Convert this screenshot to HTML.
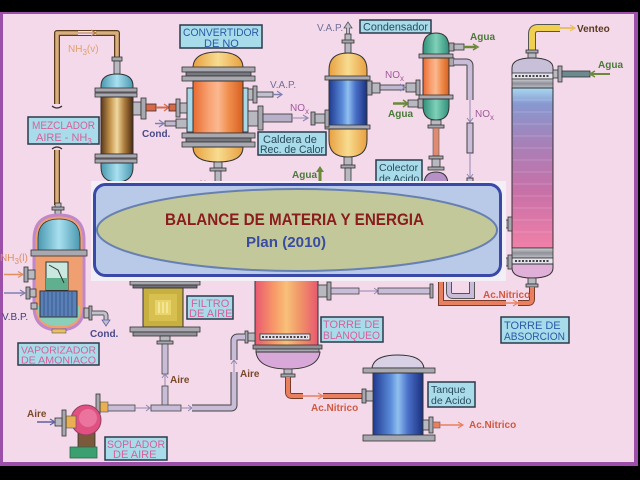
<!DOCTYPE html>
<html><head><meta charset="utf-8"><style>
html,body{margin:0;padding:0;background:#000;}
svg{display:block;}
text{font-family:"Liberation Sans",Arial,sans-serif;}
</style></head><body>
<svg width="640" height="480" viewBox="0 0 640 480" xmlns="http://www.w3.org/2000/svg">
<defs>
<linearGradient id="brown" x1="0" x2="1" y1="0" y2="0"><stop offset="0" stop-color="#5a3a1a"/><stop offset=".3" stop-color="#c89850"/><stop offset=".5" stop-color="#f0d8a0"/><stop offset=".72" stop-color="#b08040"/><stop offset="1" stop-color="#4a2a10"/></linearGradient>
<linearGradient id="orng" x1="0" x2="1"><stop offset="0" stop-color="#e86a30"/><stop offset=".3" stop-color="#f8a070"/><stop offset=".5" stop-color="#fbb890"/><stop offset=".7" stop-color="#f09050"/><stop offset="1" stop-color="#d86020"/></linearGradient>
<linearGradient id="yel" x1="0" x2="1"><stop offset="0" stop-color="#e8a040"/><stop offset=".5" stop-color="#f8dc90"/><stop offset="1" stop-color="#e8a040"/></linearGradient>
<linearGradient id="teal" x1="0" x2="1"><stop offset="0" stop-color="#4a98b0"/><stop offset=".5" stop-color="#a8e0f0"/><stop offset="1" stop-color="#4a98b0"/></linearGradient>
<linearGradient id="blue" x1="0" x2="1"><stop offset="0" stop-color="#203a90"/><stop offset=".35" stop-color="#5a8ad8"/><stop offset=".5" stop-color="#90c0f0"/><stop offset=".7" stop-color="#4a70c8"/><stop offset="1" stop-color="#1a3080"/></linearGradient>
<linearGradient id="green" x1="0" x2="1"><stop offset="0" stop-color="#30907a"/><stop offset=".5" stop-color="#80d0b8"/><stop offset="1" stop-color="#30907a"/></linearGradient>
<linearGradient id="abs" x1="0" x2="0" y1="0" y2="1"><stop offset="0" stop-color="#a8d8f0"/><stop offset=".1" stop-color="#8898d0"/><stop offset=".35" stop-color="#a880b8"/><stop offset=".65" stop-color="#c870a8"/><stop offset="1" stop-color="#f080a8"/></linearGradient>
<linearGradient id="blan" x1="0" x2="1"><stop offset="0" stop-color="#e85870"/><stop offset=".3" stop-color="#f89868"/><stop offset=".5" stop-color="#f8c078"/><stop offset=".7" stop-color="#f09868"/><stop offset="1" stop-color="#e85870"/></linearGradient>
<linearGradient id="grayb" x1="0" x2="0" y1="0" y2="1"><stop offset="0" stop-color="#d0d0d8"/><stop offset=".5" stop-color="#909098"/><stop offset="1" stop-color="#c0c0c8"/></linearGradient>
</defs>

<!-- frame -->
<rect x="0" y="0" width="640" height="480" fill="#000"/>
<rect x="0" y="12" width="638" height="454" fill="#9b4fa8"/>
<rect x="3" y="14" width="631" height="448" fill="#f4d9ea"/>

<!-- ===== NH3(v) pipe to mezclador ===== -->
<g fill="none" stroke-linejoin="round">
<path d="M117,62 V33 H57 V104" stroke="#5a3a1a" stroke-width="6"/>
<path d="M117,62 V33 H57 V104" stroke="#d8b080" stroke-width="3.5"/>
<path d="M57,150 V205" stroke="#5a3a1a" stroke-width="6"/>
<path d="M57,150 V205" stroke="#d8b080" stroke-width="3.5"/>
<path d="M52,106 q5,4 10,0" stroke="#333" stroke-width="1.2"/>
<path d="M52,149 q5,-4 10,0" stroke="#333" stroke-width="1.2"/>
</g>
<rect x="78" y="31" width="18" height="4" fill="#f4d9ea"/>
<line x1="78" y1="33" x2="96" y2="33" stroke="#b07840" stroke-width="1"/>
<path d="M91,30 L96,33 L91,36" fill="none" stroke="#b07840" stroke-width="1.2"/>
<text x="68" y="52" font-size="10" fill="#e0a070">NH<tspan font-size="8" dy="3">3</tspan><tspan dy="-3">(v)</tspan></text>

<!-- ===== Mezclador ===== -->
<rect x="112" y="57" width="10" height="4" fill="#a8a8b0" stroke="#333" stroke-width=".8"/>
<rect x="114" y="61" width="6" height="13" fill="#b8b8c0" stroke="#333" stroke-width=".8"/>
<path d="M101,90 V86 Q101,74 117,74 Q133,74 133,86 V90 Z" fill="url(#teal)" stroke="#333" stroke-width="1"/>
<rect x="95" y="88" width="42" height="4" fill="#a8a8b0" stroke="#333" stroke-width=".8"/>
<rect x="95" y="93" width="42" height="4" fill="#a8a8b0" stroke="#333" stroke-width=".8"/>
<rect x="101" y="97" width="32" height="57" fill="url(#brown)" stroke="#333" stroke-width="1"/>
<rect x="95" y="154" width="42" height="4" fill="#a8a8b0" stroke="#333" stroke-width=".8"/>
<rect x="95" y="159" width="42" height="4" fill="#a8a8b0" stroke="#333" stroke-width=".8"/>
<path d="M101,163 V167 Q101,182 117,182 Q133,182 133,167 V163 Z" fill="url(#teal)" stroke="#333" stroke-width="1"/>
<rect x="133" y="102" width="8" height="13" fill="#b8b8c0" stroke="#333" stroke-width=".8"/>
<rect x="141" y="98" width="5" height="21" fill="#a8a8b0" stroke="#333" stroke-width=".8"/>
<rect x="146" y="104" width="10" height="7" fill="#d86848" stroke="#333" stroke-width=".8"/>
<line x1="156" y1="107.5" x2="168" y2="107.5" stroke="#d86848" stroke-width="2"/>
<path d="M164,104 L169,107.5 L164,111" fill="none" stroke="#d86848" stroke-width="1.3"/>
<rect x="169" y="104" width="8" height="7" fill="#d86848" stroke="#333" stroke-width=".8"/>

<rect x="28" y="117" width="71" height="27" fill="#a8dcea" stroke="#2a3a4a" stroke-width="1.5"/>
<text x="32" y="129" font-size="11" fill="#d8609a" textLength="63" lengthAdjust="spacingAndGlyphs">MEZCLADOR</text>
<text x="36" y="141" font-size="11" fill="#d8609a">AIRE - NH<tspan font-size="8" dy="3">3</tspan></text>

<!-- ===== Convertidor ===== -->
<rect x="187" y="88" width="61" height="44" fill="#a8d8e8" stroke="#333" stroke-width="1"/>
<path d="M193,68 Q193,52 218,52 Q243,52 243,68 Z" fill="url(#yel)" stroke="#333" stroke-width="1"/>
<rect x="182" y="67" width="73" height="5" fill="#a8a8b0" stroke="#333" stroke-width=".8"/>
<rect x="186" y="72" width="65" height="4" fill="#787880" stroke="#333" stroke-width=".8"/>
<rect x="182" y="76" width="73" height="5" fill="#a8a8b0" stroke="#333" stroke-width=".8"/>
<rect x="193" y="81" width="50" height="52" fill="url(#orng)" stroke="#333" stroke-width="1"/>
<rect x="182" y="133" width="73" height="5" fill="#a8a8b0" stroke="#333" stroke-width=".8"/>
<rect x="186" y="138" width="65" height="4" fill="#787880" stroke="#333" stroke-width=".8"/>
<rect x="182" y="142" width="73" height="5" fill="#a8a8b0" stroke="#333" stroke-width=".8"/>
<path d="M193,147 Q193,162 218,162 Q243,162 243,147 Z" fill="url(#yel)" stroke="#333" stroke-width="1"/>
<rect x="214" y="162" width="8" height="6" fill="#b8b8c0" stroke="#333" stroke-width=".8"/>
<rect x="210" y="168" width="16" height="3" fill="#a8a8b0" stroke="#333" stroke-width=".8"/>
<rect x="215" y="171" width="6" height="14" fill="#b8b8c0" stroke="#333" stroke-width=".8"/>
<text x="198" y="187" font-size="9" fill="#7a4a2a">Aire</text>
<!-- inlet nozzle -->
<rect x="176" y="99" width="4" height="18" fill="#a8a8b0" stroke="#333" stroke-width=".8"/>
<rect x="180" y="103" width="7" height="10" fill="#b8b8c0" stroke="#333" stroke-width=".8"/>
<!-- cond inlet -->
<rect x="176" y="119" width="11" height="9" fill="#b8b8c0" stroke="#333" stroke-width=".8"/>
<rect x="165" y="121" width="11" height="5" fill="#c0b8d0" stroke="#333" stroke-width=".8"/>
<line x1="155" y1="123.5" x2="164" y2="123.5" stroke="#8080b0" stroke-width="1.5"/>
<path d="M159,120 L164,123.5 L159,127" fill="none" stroke="#8080b0" stroke-width="1.2"/>
<text x="142" y="137" font-size="10" font-weight="bold" fill="#4a4a8a">Cond.</text>
<!-- VAP out -->
<rect x="248" y="89" width="5" height="11" fill="#b8b8c0" stroke="#333" stroke-width=".8"/>
<rect x="253" y="86" width="4" height="17" fill="#a8a8b0" stroke="#333" stroke-width=".8"/>
<rect x="257" y="92" width="16" height="5" fill="#c0c0d0" stroke="#333" stroke-width=".8"/>
<line x1="273" y1="94.5" x2="281" y2="94.5" stroke="#8080b0" stroke-width="1.5"/>
<path d="M277,91 L282,94.5 L277,98" fill="none" stroke="#8080b0" stroke-width="1.2"/>
<text x="270" y="88" font-size="10" fill="#707098">V.A.P.</text>
<!-- NOx out -->
<rect x="248" y="111" width="10" height="15" fill="#b8b8c0" stroke="#333" stroke-width=".8"/>
<rect x="258" y="106" width="5" height="24" fill="#a8a8b0" stroke="#333" stroke-width=".8"/>
<rect x="263" y="114" width="29" height="8" fill="#b8b0c8" stroke="#333" stroke-width=".8"/>
<line x1="292" y1="118" x2="308" y2="118" stroke="#9088b0" stroke-width="1"/>
<path d="M303,115 L308,118 L303,121" fill="none" stroke="#9088b0" stroke-width="1.2"/>
<text x="290" y="111" font-size="10" fill="#a05a9a">NO<tspan font-size="8" dy="3">x</tspan></text>

<rect x="180" y="25" width="82" height="23" fill="#a8dcea" stroke="#2a3a4a" stroke-width="1.5"/>
<text x="183" y="36" font-size="11" fill="#2a5aa8" textLength="76" lengthAdjust="spacingAndGlyphs">CONVERTIDOR</text>
<text x="204" y="47" font-size="11" fill="#2a5aa8">DE NO</text>

<!-- ===== Caldera ===== -->
<path d="M348,22 L344,28 H346.5 V34 H349.5 V28 H352 Z" fill="#c0c0d0" stroke="#555" stroke-width=".8"/>
<rect x="345" y="34" width="6" height="19" fill="#b8b8c0" stroke="#333" stroke-width=".8"/>
<rect x="342" y="40" width="12" height="3" fill="#a8a8b0" stroke="#333" stroke-width=".8"/>
<text x="317" y="31" font-size="10" fill="#707098">V.A.P.</text>
<path d="M329,78 V70 Q329,53 348,53 Q367,53 367,70 V78 Z" fill="url(#yel)" stroke="#333" stroke-width="1"/>
<rect x="325" y="76" width="45" height="4" fill="#a8a8b0" stroke="#333" stroke-width=".8"/>
<rect x="329" y="80" width="38" height="46" fill="url(#blue)" stroke="#333" stroke-width="1"/>
<rect x="325" y="125" width="45" height="4" fill="#a8a8b0" stroke="#333" stroke-width=".8"/>
<path d="M329,129 V140 Q329,157 348,157 Q367,157 367,140 V129 Z" fill="url(#yel)" stroke="#333" stroke-width="1"/>
<rect x="344" y="157" width="8" height="8" fill="#b8b8c0" stroke="#333" stroke-width=".8"/>
<rect x="341" y="165" width="14" height="3" fill="#a8a8b0" stroke="#333" stroke-width=".8"/>
<rect x="345" y="168" width="6" height="16" fill="#b8b8c0" stroke="#333" stroke-width=".8"/>
<rect x="311" y="112" width="4" height="13" fill="#a8a8b0" stroke="#333" stroke-width=".8"/>
<rect x="315" y="114" width="10" height="9" fill="#b8b8c0" stroke="#333" stroke-width=".8"/>
<rect x="325" y="110" width="4" height="17" fill="#a8a8b0" stroke="#333" stroke-width=".8"/>
<!-- boiler -> condenser NOx -->
<rect x="367" y="81" width="5" height="14" fill="#a8a8b0" stroke="#333" stroke-width=".8"/>
<rect x="372" y="83" width="8" height="10" fill="#b8b8c0" stroke="#333" stroke-width=".8"/>
<rect x="380" y="85" width="24" height="5" fill="#c0b8d0" stroke="#333" stroke-width=".8"/>
<path d="M400,84 L405,87.5 L400,91" fill="none" stroke="#8080b0" stroke-width="1.2"/>
<rect x="406" y="83" width="10" height="9" fill="#b8b8c0" stroke="#333" stroke-width=".8"/>
<rect x="416" y="80" width="4" height="15" fill="#a8a8b0" stroke="#333" stroke-width=".8"/>
<text x="385" y="78" font-size="10" fill="#a05a9a">NO<tspan font-size="8" dy="3">x</tspan></text>

<rect x="258" y="132" width="68" height="23" fill="#a8dcea" stroke="#2a3a4a" stroke-width="1.5"/>
<text x="263" y="143" font-size="11" fill="#2a4a5a">Caldera de</text>
<text x="260" y="153" font-size="11" fill="#2a4a5a" textLength="64" lengthAdjust="spacingAndGlyphs">Rec. de Calor</text>

<!-- Agua up -->
<text x="292" y="178" font-size="10" font-weight="bold" fill="#4a7a3a">Agua</text>
<path d="M320,166 L316,172 H318.5 V185 H321.5 V172 H324 Z" fill="#6a8a3a"/>

<!-- ===== Condensador ===== -->
<rect x="360" y="20" width="71" height="13" fill="#a8dcea" stroke="#2a3a4a" stroke-width="1.5"/>
<text x="363" y="30.5" font-size="11" fill="#2a4a5a" textLength="65" lengthAdjust="spacingAndGlyphs">Condensador</text>
<path d="M423,55 V48 Q423,33 436,33 Q449,33 449,48 V55 Z" fill="url(#green)" stroke="#333" stroke-width="1"/>
<rect x="419" y="54" width="34" height="4" fill="#a8a8b0" stroke="#333" stroke-width=".8"/>
<rect x="423" y="58" width="26" height="38" fill="url(#orng)" stroke="#333" stroke-width="1"/>
<rect x="419" y="95" width="34" height="4" fill="#a8a8b0" stroke="#333" stroke-width=".8"/>
<path d="M423,99 V106 Q423,120 436,120 Q449,120 449,106 V99 Z" fill="url(#green)" stroke="#333" stroke-width="1"/>
<rect x="431" y="120" width="10" height="5" fill="#b8b8c0" stroke="#333" stroke-width=".8"/>
<rect x="428" y="125" width="16" height="3" fill="#a8a8b0" stroke="#333" stroke-width=".8"/>
<rect x="433" y="128" width="6" height="28" fill="#e08a70" stroke="#555" stroke-width=".6"/>
<rect x="429" y="156" width="14" height="3" fill="#a8a8b0" stroke="#333" stroke-width=".8"/>
<rect x="432" y="159" width="8" height="8" fill="#b8b8c0" stroke="#333" stroke-width=".8"/>
<rect x="428" y="167" width="16" height="3" fill="#a8a8b0" stroke="#333" stroke-width=".8"/>
<path d="M424,185 Q424,172 436,172 Q448,172 448,185 Z" fill="#b890c8" stroke="#333" stroke-width="1"/>
<!-- agua out -->
<rect x="449" y="43" width="5" height="8" fill="#a8a8b0" stroke="#333" stroke-width=".8"/>
<rect x="454" y="44" width="10" height="6" fill="#b8b8c0" stroke="#333" stroke-width=".8"/>
<line x1="464" y1="47" x2="476" y2="47" stroke="#6a8a3a" stroke-width="2.5"/>
<path d="M473,44 L478,47 L473,50" fill="none" stroke="#6a8a3a" stroke-width="1.5"/>
<text x="470" y="40" font-size="10" font-weight="bold" fill="#4a7a3a">Agua</text>
<!-- agua in -->
<rect x="418" y="99" width="5" height="9" fill="#a8a8b0" stroke="#333" stroke-width=".8"/>
<rect x="408" y="100" width="10" height="7" fill="#b8b8c0" stroke="#333" stroke-width=".8"/>
<line x1="393" y1="103.5" x2="407" y2="103.5" stroke="#6a8a3a" stroke-width="2.5"/>
<path d="M403,100 L408,103.5 L403,107" fill="none" stroke="#6a8a3a" stroke-width="1.5"/>
<text x="388" y="117" font-size="10" font-weight="bold" fill="#4a7a3a">Agua</text>
<!-- gas pipe -->
<rect x="449" y="58" width="5" height="8" fill="#a8a8b0" stroke="#333" stroke-width=".8"/>
<path d="M454,62 H466 Q470,62 470,66 V100" fill="none" stroke="#444" stroke-width="7"/>
<path d="M454,62 H466 Q470,62 470,66 V100" fill="none" stroke="#c8bcd8" stroke-width="5"/>
<line x1="470" y1="100" x2="470" y2="122" stroke="#9088b0" stroke-width="1"/>
<path d="M467,118 L470,122 L473,118" fill="none" stroke="#9088b0" stroke-width="1"/>
<rect x="467" y="123" width="6" height="30" fill="#c8bcd8" stroke="#444" stroke-width="1"/>
<line x1="470" y1="153" x2="470" y2="178" stroke="#9088b0" stroke-width="1"/>
<path d="M467,174 L470,178 L473,174" fill="none" stroke="#9088b0" stroke-width="1"/>
<rect x="467" y="178" width="6" height="8" fill="#c8bcd8" stroke="#444" stroke-width="1"/>
<text x="475" y="117" font-size="10" fill="#a05a9a">NO<tspan font-size="8" dy="3">x</tspan></text>

<rect x="376" y="160" width="46" height="26" fill="#a8dcea" stroke="#2a3a4a" stroke-width="1.5"/>
<text x="379" y="171" font-size="10.5" fill="#2a4a5a">Colector</text>
<text x="379" y="182" font-size="10.5" fill="#2a4a5a">de Acido</text>

<!-- ===== Absorber ===== -->
<path d="M532,52 V34 Q532,28 538,28 H560" fill="none" stroke="#555" stroke-width="8"/>
<path d="M532,52 V34 Q532,28 538,28 H560" fill="none" stroke="#f0d050" stroke-width="6"/>
<line x1="560" y1="28" x2="574" y2="28" stroke="#e8c060" stroke-width="2"/>
<path d="M570,25 L575,28 L570,31" fill="none" stroke="#e8c060" stroke-width="1.3"/>
<text x="577" y="32" font-size="10" font-weight="bold" fill="#5a3a20">Venteo</text>
<rect x="526" y="50" width="12" height="3" fill="#a8a8b0" stroke="#333" stroke-width=".8"/>
<rect x="528" y="53" width="8" height="6" fill="#b8b8c0" stroke="#333" stroke-width=".8"/>
<path d="M512,75 V68 Q512,58 532,58 Q553,58 553,68 V75 Z" fill="#c8c0d8" stroke="#333" stroke-width="1"/>
<rect x="512" y="73" width="41" height="6" fill="#e4e4ee" stroke="#333" stroke-width=".8"/>
<line x1="515" y1="76" x2="550" y2="76" stroke="#444" stroke-width="2" stroke-dasharray="2,1.5"/>
<rect x="512" y="79" width="41" height="9" fill="url(#grayb)" stroke="#333" stroke-width=".8"/>
<rect x="512" y="88" width="41" height="160" fill="url(#abs)" stroke="#333" stroke-width="1"/>
<g stroke="#ffffff" stroke-opacity=".18" stroke-width="1">
<line x1="513" y1="100" x2="552" y2="100"/><line x1="513" y1="112" x2="552" y2="112"/><line x1="513" y1="124" x2="552" y2="124"/><line x1="513" y1="136" x2="552" y2="136"/><line x1="513" y1="148" x2="552" y2="148"/><line x1="513" y1="160" x2="552" y2="160"/><line x1="513" y1="172" x2="552" y2="172"/><line x1="513" y1="184" x2="552" y2="184"/><line x1="513" y1="196" x2="552" y2="196"/><line x1="513" y1="208" x2="552" y2="208"/><line x1="513" y1="220" x2="552" y2="220"/><line x1="513" y1="232" x2="552" y2="232"/>
</g>
<rect x="512" y="248" width="41" height="10" fill="url(#grayb)" stroke="#333" stroke-width=".8"/>
<rect x="512" y="258" width="41" height="6" fill="#e4e4ee" stroke="#333" stroke-width=".8"/>
<line x1="515" y1="261" x2="550" y2="261" stroke="#444" stroke-width="2" stroke-dasharray="2,1.5"/>
<path d="M512,264 V268 Q512,278 532,278 Q553,278 553,268 V264 Z" fill="#e0b0d8" stroke="#333" stroke-width="1"/>
<rect x="528" y="278" width="8" height="6" fill="#b8b8c0" stroke="#333" stroke-width=".8"/>
<rect x="526" y="284" width="12" height="3" fill="#a8a8b0" stroke="#333" stroke-width=".8"/>
<path d="M532,287 V299 Q532,303 528,303 H441 V282" fill="none" stroke="#7a3a2a" stroke-width="6"/>
<path d="M532,287 V299 Q532,303 528,303 H441 V282" fill="none" stroke="#e88060" stroke-width="4"/>
<rect x="506" y="300" width="12" height="6" fill="#f4d9ea"/>
<line x1="506" y1="303" x2="517" y2="303" stroke="#e88060" stroke-width="1.5"/>
<path d="M513,300 L518,303 L513,306" fill="none" stroke="#e88060" stroke-width="1.2"/>
<path d="M449,282 V292 Q449,296 453,296 H472 V282" fill="none" stroke="#555" stroke-width="6"/>
<path d="M449,282 V292 Q449,296 453,296 H472 V282" fill="none" stroke="#c8bcd8" stroke-width="4"/>
<text x="483" y="298" font-size="10" font-weight="bold" fill="#d05a40">Ac.Nitrico</text>
<!-- agua in -->
<rect x="553" y="70" width="5" height="8" fill="#b8b8c0" stroke="#333" stroke-width=".8"/>
<rect x="558" y="66" width="4" height="16" fill="#a8a8b0" stroke="#333" stroke-width=".8"/>
<rect x="562" y="71" width="28" height="6" fill="#6a8a90" stroke="#333" stroke-width=".8"/>
<line x1="590" y1="74" x2="610" y2="74" stroke="#6a8a3a" stroke-width="2"/>
<path d="M595,71 L590,74 L595,77" fill="none" stroke="#6a8a3a" stroke-width="1.5"/>
<text x="598" y="68" font-size="10" font-weight="bold" fill="#4a7a3a">Agua</text>
<!-- left nozzles -->
<rect x="500" y="220" width="8" height="8" fill="#b8b8c0" stroke="#333" stroke-width=".8"/>
<rect x="508" y="217" width="4" height="14" fill="#a8a8b0" stroke="#333" stroke-width=".8"/>
<rect x="500" y="258" width="8" height="8" fill="#b8b8c0" stroke="#333" stroke-width=".8"/>
<rect x="508" y="255" width="4" height="14" fill="#a8a8b0" stroke="#333" stroke-width=".8"/>

<rect x="501" y="317" width="68" height="26" fill="#a8dcea" stroke="#2a3a4a" stroke-width="1.5"/>
<text x="504" y="329" font-size="11" fill="#2a5aa8">TORRE DE</text>
<text x="504" y="340" font-size="11" fill="#2a5aa8" textLength="61" lengthAdjust="spacingAndGlyphs">ABSORCION</text>

<!-- ===== Torre de Blanqueo ===== -->
<rect x="255" y="276" width="63" height="70" fill="url(#blan)" stroke="#333" stroke-width="1"/>
<rect x="260" y="334" width="50" height="6" fill="#e8e0ea" stroke="#333" stroke-width=".8"/>
<line x1="262" y1="337" x2="308" y2="337" stroke="#444" stroke-width="2" stroke-dasharray="2,1.5"/>
<rect x="253" y="345" width="69" height="4" fill="#909098" stroke="#333" stroke-width=".8"/>
<rect x="256" y="349" width="63" height="3" fill="#a8a8b0" stroke="#333" stroke-width=".8"/>
<path d="M256,352 Q258,369 288,369 Q318,369 320,352 Z" fill="#d8a8d8" stroke="#333" stroke-width="1"/>
<rect x="284" y="369" width="8" height="5" fill="#b8b8c0" stroke="#333" stroke-width=".8"/>
<rect x="281" y="374" width="14" height="3" fill="#a8a8b0" stroke="#333" stroke-width=".8"/>
<path d="M288,377 V392 Q288,396 292,396 H362" fill="none" stroke="#7a3a2a" stroke-width="6"/>
<path d="M288,377 V392 Q288,396 292,396 H362" fill="none" stroke="#e88060" stroke-width="4"/>
<rect x="303" y="392" width="20" height="8" fill="#f4d9ea"/>
<line x1="303" y1="396" x2="322" y2="396" stroke="#e88060" stroke-width="1.5"/>
<path d="M318,393 L323,396 L318,399" fill="none" stroke="#e88060" stroke-width="1.2"/>
<text x="311" y="411" font-size="10" font-weight="bold" fill="#d05a40">Ac.Nitrico</text>
<!-- top right nozzle + pipe -->
<rect x="318" y="285" width="9" height="12" fill="#b8b8c0" stroke="#333" stroke-width=".8"/>
<rect x="327" y="282" width="4" height="18" fill="#a8a8b0" stroke="#333" stroke-width=".8"/>
<rect x="331" y="288" width="28" height="6" fill="#c8bcd8" stroke="#444" stroke-width=".8"/>
<line x1="359" y1="291" x2="378" y2="291" stroke="#9088b0" stroke-width="1"/>
<path d="M374,288 L378,291 L374,294" fill="none" stroke="#9088b0" stroke-width="1"/>
<rect x="378" y="288" width="52" height="6" fill="#c8bcd8" stroke="#444" stroke-width=".8"/>
<rect x="430" y="284" width="3" height="14" fill="#a8a8b0" stroke="#333" stroke-width=".8"/>
<!-- left air nozzle -->
<rect x="245" y="331" width="3" height="12" fill="#a8a8b0" stroke="#333" stroke-width=".8"/>
<rect x="248" y="333" width="7" height="8" fill="#b8b8c0" stroke="#333" stroke-width=".8"/>

<rect x="321" y="317" width="62" height="25" fill="#a8dcea" stroke="#2a3a4a" stroke-width="1.5"/>
<text x="323" y="328" font-size="11" fill="#d8609a">TORRE DE</text>
<text x="323" y="339" font-size="11" fill="#d8609a" textLength="57" lengthAdjust="spacingAndGlyphs">BLANQUEO</text>

<!-- ===== Tanque de Acido ===== -->
<path d="M372,368 Q374,355 398,355 Q422,355 424,368 Z" fill="#d8d0e4" stroke="#333" stroke-width="1"/>
<rect x="363" y="368" width="72" height="5" fill="#a8a8b0" stroke="#333" stroke-width=".8"/>
<rect x="373" y="373" width="50" height="62" fill="url(#blue)" stroke="#333" stroke-width="1"/>
<rect x="363" y="435" width="72" height="6" fill="#a8a8b0" stroke="#333" stroke-width=".8"/>
<rect x="362" y="389" width="4" height="14" fill="#a8a8b0" stroke="#333" stroke-width=".8"/>
<rect x="366" y="391" width="7" height="10" fill="#b8b8c0" stroke="#333" stroke-width=".8"/>
<rect x="423" y="420" width="6" height="10" fill="#b8b8c0" stroke="#333" stroke-width=".8"/>
<rect x="429" y="417" width="4" height="16" fill="#a8a8b0" stroke="#333" stroke-width=".8"/>
<rect x="433" y="422" width="7" height="6" fill="#e88060" stroke="#555" stroke-width=".6"/>
<line x1="440" y1="425" x2="462" y2="425" stroke="#e88060" stroke-width="1.5"/>
<path d="M458,422 L463,425 L458,428" fill="none" stroke="#e88060" stroke-width="1.2"/>
<text x="469" y="428" font-size="10" font-weight="bold" fill="#d05a40">Ac.Nitrico</text>
<rect x="428" y="382" width="47" height="25" fill="#a8dcea" stroke="#2a3a4a" stroke-width="1.5"/>
<text x="431" y="393" font-size="10.5" fill="#2a4a5a">Tanque</text>
<text x="431" y="404" font-size="10.5" fill="#2a4a5a">de Acido</text>

<!-- ===== Filtro de aire ===== -->
<rect x="130" y="281" width="70" height="4" fill="#a8a8b0" stroke="#333" stroke-width=".8"/>
<rect x="133" y="285" width="64" height="3" fill="#707078" stroke="#333" stroke-width=".8"/>
<rect x="143" y="288" width="40" height="39" fill="#c8b040" stroke="#333" stroke-width="1"/>
<rect x="149" y="294" width="28" height="27" fill="#d8c050"/>
<rect x="155" y="300" width="16" height="15" fill="#e8d468"/>
<g stroke="#f8f0b0" stroke-width="1.3"><line x1="159" y1="302" x2="159" y2="313"/><line x1="163" y1="302" x2="163" y2="313"/><line x1="167" y1="302" x2="167" y2="313"/></g>
<rect x="130" y="327" width="70" height="5" fill="#a8a8b0" stroke="#333" stroke-width=".8"/>
<rect x="133" y="332" width="64" height="4" fill="#909098" stroke="#333" stroke-width=".8"/>
<rect x="160" y="336" width="10" height="5" fill="#b8b8c0" stroke="#333" stroke-width=".8"/>
<rect x="157" y="341" width="16" height="3" fill="#a8a8b0" stroke="#333" stroke-width=".8"/>
<rect x="162" y="344" width="6" height="30" fill="#c8bcd8" stroke="#444" stroke-width=".8"/>
<line x1="165" y1="374" x2="165" y2="386" stroke="#9088b0" stroke-width="1"/>
<path d="M162,378 L165,374 L168,378" fill="none" stroke="#9088b0" stroke-width="1"/>
<rect x="162" y="386" width="6" height="20" fill="#c8bcd8" stroke="#444" stroke-width=".8"/>
<text x="170" y="383" font-size="10" font-weight="bold" fill="#7a4a2a">Aire</text>
<rect x="187" y="296" width="46" height="23" fill="#a8dcea" stroke="#2a3a4a" stroke-width="1.5"/>
<text x="191" y="307" font-size="11" fill="#d8609a">FILTRO</text>
<text x="189" y="317" font-size="11" fill="#d8609a">DE AIRE</text>

<!-- ===== Air main pipe ===== -->
<rect x="107" y="405" width="28" height="6" fill="#c8bcd8" stroke="#444" stroke-width=".8"/>
<line x1="135" y1="408" x2="150" y2="408" stroke="#9088b0" stroke-width="1"/>
<path d="M146,405 L150,408 L146,411" fill="none" stroke="#9088b0" stroke-width="1"/>
<rect x="151" y="405" width="30" height="6" fill="#c8bcd8" stroke="#444" stroke-width=".8"/>
<line x1="181" y1="408" x2="192" y2="408" stroke="#9088b0" stroke-width="1"/>
<path d="M188,405 L192,408 L188,411" fill="none" stroke="#9088b0" stroke-width="1"/>
<path d="M192,408 H231 Q234,408 234,405 V372" fill="none" stroke="#444" stroke-width="7"/>
<path d="M192,408 H231 Q234,408 234,405 V372" fill="none" stroke="#c8bcd8" stroke-width="5"/>
<line x1="234" y1="372" x2="234" y2="360" stroke="#9088b0" stroke-width="1"/>
<path d="M231,364 L234,360 L237,364" fill="none" stroke="#9088b0" stroke-width="1"/>
<path d="M234,360 V341 Q234,337 238,337 H245" fill="none" stroke="#444" stroke-width="7"/>
<path d="M234,360 V341 Q234,337 238,337 H245" fill="none" stroke="#c8bcd8" stroke-width="5"/>
<text x="240" y="377" font-size="10" font-weight="bold" fill="#7a4a2a">Aire</text>

<!-- ===== Soplador ===== -->
<rect x="100" y="402" width="8" height="10" fill="#e8b050" stroke="#555" stroke-width=".6"/>
<rect x="96" y="394" width="4" height="26" fill="#a8a8b0" stroke="#333" stroke-width=".8"/>
<rect x="78" y="432" width="17" height="16" fill="#7a5a3a" stroke="#333" stroke-width=".8"/>
<circle cx="86" cy="420" r="15" fill="#e05080" stroke="#904060" stroke-width="1"/>
<circle cx="88" cy="418" r="9" fill="#f08cb0" opacity=".6"/>
<rect x="66" y="416" width="10" height="12" fill="#e8b050" stroke="#555" stroke-width=".6"/>
<rect x="62" y="410" width="4" height="26" fill="#a8a8b0" stroke="#333" stroke-width=".8"/>
<rect x="55" y="418" width="7" height="8" fill="#b8b8c0" stroke="#333" stroke-width=".8"/>
<rect x="70" y="447" width="27" height="11" fill="#3aa070" stroke="#2a6a4a" stroke-width=".8"/>
<line x1="37" y1="422" x2="54" y2="422" stroke="#6060a0" stroke-width="1.5"/>
<path d="M50,419 L55,422 L50,425" fill="none" stroke="#6060a0" stroke-width="1.2"/>
<text x="27" y="417" font-size="10" font-weight="bold" fill="#7a4a2a">Aire</text>
<rect x="105" y="437" width="62" height="23" fill="#a8dcea" stroke="#2a3a4a" stroke-width="1.5"/>
<text x="107" y="448" font-size="11" fill="#d8609a" textLength="58" lengthAdjust="spacingAndGlyphs">SOPLADOR</text>
<text x="113" y="458" font-size="11" fill="#d8609a">DE AIRE</text>

<!-- ===== Vaporizador ===== -->
<rect x="55" y="203" width="6" height="14" fill="#b8b8c0" stroke="#333" stroke-width=".8"/>
<rect x="52" y="207" width="12" height="3" fill="#a8a8b0" stroke="#333" stroke-width=".8"/>
<path d="M34,240 Q34,215 59,215 Q84,215 84,240 V306 Q84,330 59,330 Q34,330 34,306 Z" fill="#f0a070" stroke="#c088c8" stroke-width="3"/>
<path d="M38,251 V238 Q38,219 59,219 Q80,219 80,238 V251 Z" fill="url(#teal)" stroke="#333" stroke-width=".8"/>
<rect x="31" y="250" width="56" height="6" fill="#a8a8b0" stroke="#333" stroke-width=".8"/>
<path d="M38,306 V310 Q38,326 59,326 Q80,326 80,310 V306 Z" fill="#8ccfb8"/>
<rect x="46" y="262" width="22" height="28" fill="#c8e8e0" stroke="#333" stroke-width="1"/>
<rect x="46" y="278" width="22" height="12" fill="#60b090"/>
<polyline points="49,265 58,270 64,283" fill="none" stroke="#333" stroke-width="1"/>
<rect x="40" y="291" width="37" height="26" fill="#5a80b8" stroke="#333" stroke-width="1"/>
<g stroke="#3a5a90" stroke-width="1"><line x1="44" y1="292" x2="44" y2="316"/><line x1="48" y1="292" x2="48" y2="316"/><line x1="52" y1="292" x2="52" y2="316"/><line x1="56" y1="292" x2="56" y2="316"/><line x1="60" y1="292" x2="60" y2="316"/><line x1="64" y1="292" x2="64" y2="316"/><line x1="68" y1="292" x2="68" y2="316"/><line x1="72" y1="292" x2="72" y2="316"/></g>
<rect x="52" y="329" width="14" height="4" fill="#e8c060" stroke="#555" stroke-width=".6"/>
<!-- NH3(l) in -->
<rect x="24" y="267" width="4" height="15" fill="#a8a8b0" stroke="#333" stroke-width=".8"/>
<rect x="28" y="270" width="7" height="9" fill="#b8b8c0" stroke="#333" stroke-width=".8"/>
<line x1="4" y1="274.5" x2="23" y2="274.5" stroke="#e09060" stroke-width="1.5"/>
<path d="M18,271.5 L23,274.5 L18,277.5" fill="none" stroke="#e09060" stroke-width="1.2"/>
<text x="0" y="261" font-size="10" fill="#e09060">NH<tspan font-size="8" dy="3">3</tspan><tspan dy="-3">(l)</tspan></text>
<!-- VBP in -->
<rect x="26" y="287" width="4" height="12" fill="#a8a8b0" stroke="#333" stroke-width=".8"/>
<rect x="30" y="289" width="6" height="8" fill="#b8b8c0" stroke="#333" stroke-width=".8"/>
<line x1="4" y1="293" x2="25" y2="293" stroke="#8080b0" stroke-width="1.5"/>
<path d="M20,290 L25,293 L20,296" fill="none" stroke="#8080b0" stroke-width="1.2"/>
<text x="2" y="320" font-size="10" fill="#404080">V.B.P.</text>
<rect x="31" y="303" width="6" height="6" fill="#b8b8c0" stroke="#333" stroke-width=".8"/>
<!-- cond out -->
<rect x="84" y="308" width="5" height="10" fill="#b8b8c0" stroke="#333" stroke-width=".8"/>
<rect x="89" y="306" width="3" height="14" fill="#a8a8b0" stroke="#333" stroke-width=".8"/>
<path d="M92,313 H103 Q106,313 106,316 V320" fill="none" stroke="#555" stroke-width="5"/>
<path d="M92,313 H103 Q106,313 106,316 V320" fill="none" stroke="#c0c0d0" stroke-width="3"/>
<path d="M102,320 L106,326 L110,320 Z" fill="#c0c0d0" stroke="#6060a0" stroke-width=".8"/>
<text x="90" y="337" font-size="10" font-weight="bold" fill="#4a4a8a">Cond.</text>
<rect x="18" y="343" width="81" height="22" fill="#a8dcea" stroke="#2a3a4a" stroke-width="1.5"/>
<text x="21" y="353.5" font-size="10.5" fill="#d8609a" textLength="75" lengthAdjust="spacingAndGlyphs">VAPORIZADOR</text>
<text x="21" y="363.5" font-size="10.5" fill="#d8609a" textLength="75" lengthAdjust="spacingAndGlyphs">DE  AMONIACO</text>

<!-- ===== Title box ===== -->
<rect x="91" y="181" width="415" height="100" fill="#f2f0f6"/>
<rect x="94.5" y="184.5" width="406" height="91" rx="11" fill="#b8cae8" stroke="#3a48a8" stroke-width="3"/>
<ellipse cx="297" cy="230" rx="200" ry="41" fill="#c2c89a" stroke="#6880b0" stroke-width="2"/>
<text x="165" y="225" font-size="17" font-weight="bold" fill="#8a1c1c" textLength="259" lengthAdjust="spacingAndGlyphs">BALANCE DE MATERIA Y ENERGIA</text>
<text x="246" y="247" font-size="15" font-weight="bold" fill="#3a4ca0" textLength="80" lengthAdjust="spacingAndGlyphs">Plan (2010)</text>
</svg>
</body></html>
